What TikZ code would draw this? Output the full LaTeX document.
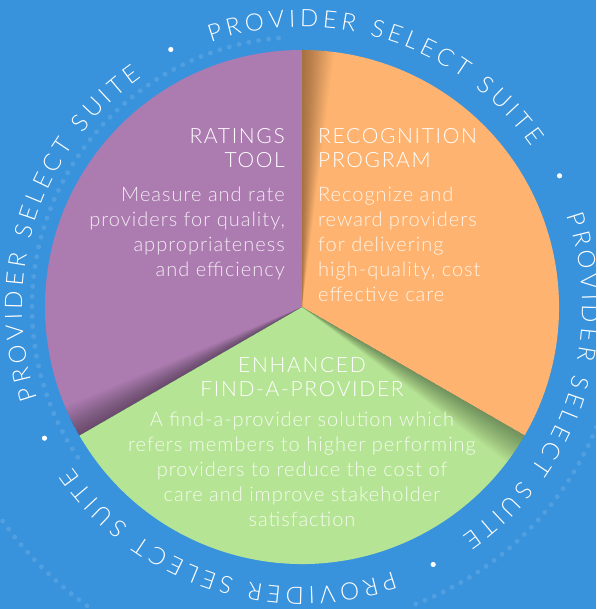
\documentclass[tikz,border=0pt]{standalone}
\usepackage{fontspec}
\setmainfont{Lato}[UprightFont=* Light]
\usetikzlibrary{positioning}
\usetikzlibrary{decorations.text}
\definecolor{bgblue}{HTML}{3892DC}
\definecolor{wedgeP}{HTML}{AC7BB0}
\definecolor{wedgeO}{HTML}{FEB470}
\definecolor{wedgeG}{HTML}{B6E495}
\newcommand{\Rpie}{257pt}
\newcommand{\Rtxt}{280pt}
\newcommand{\Rdot}{289pt}
\newcommand{\Tsuite}{PROVIDER SELECT SUITE}
\tikzstyle{ttl} = [text=white, inner sep=0pt, font=\fontsize{21}{24}\selectfont\addfontfeatures{LetterSpace=8}]
\tikzstyle{body} = [text=white, text opacity=.85, inner sep=0pt, font=\fontsize{20}{25}\selectfont\addfontfeatures{LetterSpace=5}]
\tikzstyle{faint} = [white, opacity=.12, line width=5pt, line cap=round, dash pattern=on 0pt off 10pt]

\begin{document}
\begin{tikzpicture}
\useasboundingbox (-302pt,-302pt) rectangle (294pt,307pt);
\fill[bgblue] (-302pt,-302pt) rectangle (294pt,307pt);

% faint dots in the background
\draw[faint] (95:270pt) arc[start angle=95, end angle=215, radius=270pt];
\draw[faint] (-15:318pt) arc[start angle=-15, end angle=-70, radius=318pt];
\draw[faint] (200:368pt) arc[start angle=200, end angle=250, radius=368pt];

% wedges
\fill[wedgeP] (0,0) -- (90:\Rpie) arc[start angle=90, end angle=210, radius=\Rpie] -- cycle;
\fill[wedgeO] (0,0) -- (-30:\Rpie) arc[start angle=-30, end angle=90, radius=\Rpie] -- cycle;
\fill[wedgeG] (0,0) -- (210:\Rpie) arc[start angle=210, end angle=330, radius=\Rpie] -- cycle;
\foreach \e in {90,210,330}
  \foreach \k in {1,...,24}
    \fill[black, opacity=.016] (0,0) -- (\e-\k*.3:\Rpie) arc[start angle=\e-\k*.3, end angle=\e, radius=\Rpie] -- cycle;

% ring of text
\foreach \a in {72,-18,-108,162} {
  \path[decorate, decoration={text along path, text align={fit to path}, text color=white,
      text={|\fontsize{24}{24}\selectfont|\Tsuite}}]
      (\a+37:\Rtxt) arc[start angle=\a+37, end angle=\a-37, radius=\Rtxt];
  \fill[white] (\a+45:\Rdot) circle (2.6pt);
}

% Define nodes
\node[ttl, align=right, anchor=north east]                          (ratT) at (-17pt,179pt) {RATINGS\\TOOL};
\node[body, align=right, below=19pt of ratT.south east, anchor=north east]  (ratB) {Measure and rate\\providers for quality,\\appropriateness\\and efficiency};

\node[ttl, align=left, anchor=north west]                           (recT) at (16pt,179pt) {RECOGNITION\\PROGRAM};
\node[body, align=left, below=19pt of recT.south west, anchor=north west]   (recB) {Recognize and\\reward providers\\for delivering\\high-quality, cost\\effective care};

\node[ttl, align=center, anchor=north]                              (enhT) at (0,-50pt) {ENHANCED\\FIND-A-PROVIDER};
\node[body, align=center, below=15pt of enhT]                        (enhB) {A find-a-provider solution which\\refers members to higher performing\\providers to reduce the cost of\\care and improve stakeholder\\satisfaction};
\end{tikzpicture}
\end{document}
